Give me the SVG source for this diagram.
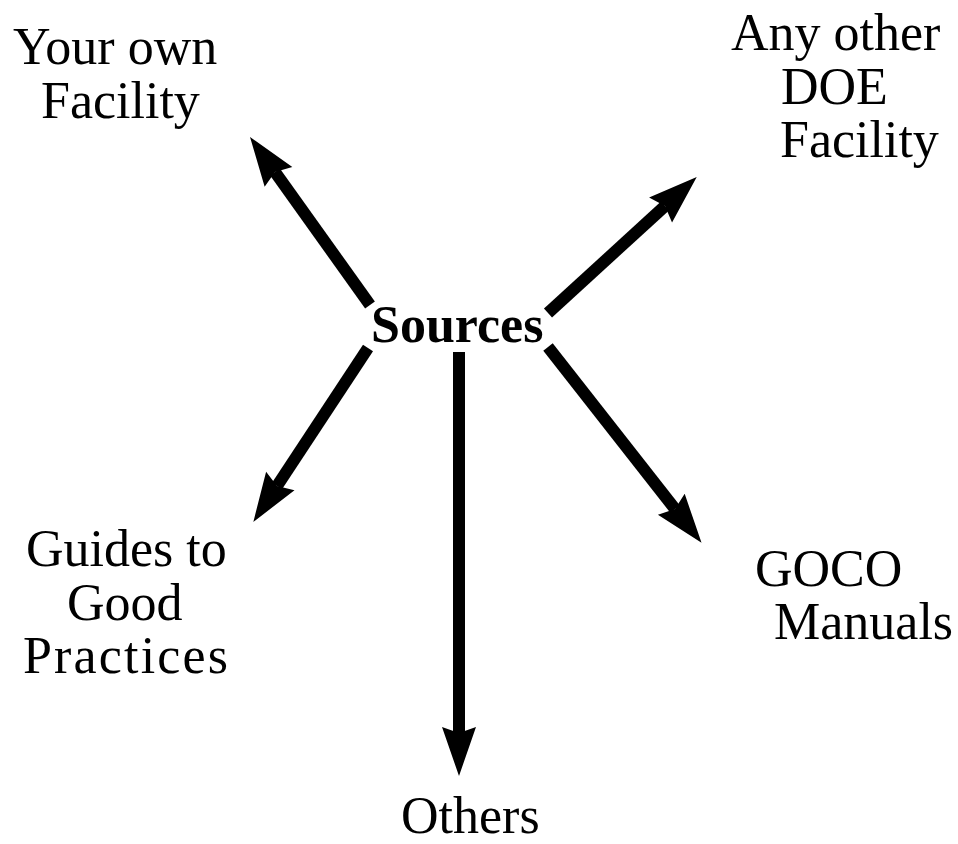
<svg xmlns="http://www.w3.org/2000/svg" width="958" height="844" viewBox="0 0 958 844">
<style>
text{font-family:"Liberation Serif","Times New Roman",serif;font-size:52px;fill:#000}
.b{font-weight:bold}
.c{stroke:#000;stroke-width:12;fill:none;marker-end:url(#ah)}
</style>
<defs>
<marker id="ah" markerUnits="userSpaceOnUse" orient="auto" refX="0" refY="0" markerWidth="60" markerHeight="40" viewBox="-10 -20 60 40" overflow="visible">
<path d="M43,0 L-6,-17 L0,0 L-6,17 Z" fill="#000"/>
</marker>
</defs>
<rect width="958" height="844" fill="#fff"/>
<g id="connectors">
<line class="c" x1="370" y1="305" x2="275" y2="172"/>
<line class="c" x1="548" y1="313" x2="665" y2="206"/>
<line class="c" x1="368" y1="348" x2="277" y2="486"/>
<line class="c" x1="548" y1="347" x2="675" y2="509"/>
<line class="c" x1="459" y1="352" x2="459" y2="733"/>
</g>
<g id="sources"><text class="b" x="371" y="342">Sources</text></g>
<g id="your-own"><text x="13" y="64">Your own</text><text x="41" y="118">Facility</text></g>
<g id="any-other"><text x="731" y="50">Any other</text><text x="781" y="104">DOE</text><text x="780" y="157">Facility</text></g>
<g id="guides"><text x="26" y="566">Guides to</text><text x="67" y="620">Good</text><text x="23" y="673" textLength="205" lengthAdjust="spacing">Practices</text></g>
<g id="goco"><text x="755" y="586">GOCO</text><text x="774" y="639">Manuals</text></g>
<g id="others"><text x="401" y="833">Others</text></g>
</svg>
